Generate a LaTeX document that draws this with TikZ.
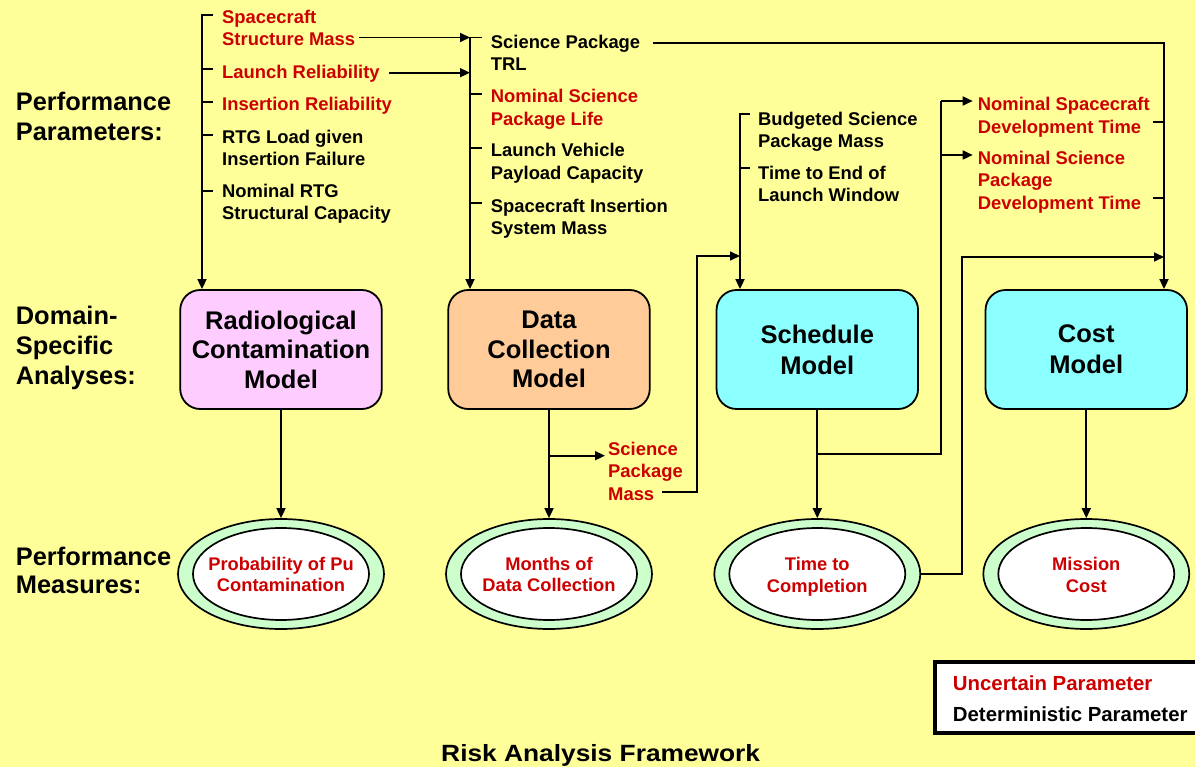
\documentclass[tikz,border=0pt]{standalone}
\usepackage{fontspec}
\usepackage{graphicx}
\setmainfont{Liberation Sans}
\usetikzlibrary{arrows.meta,shapes.geometric,calc}
\definecolor{bgy}{HTML}{FFFF99}
\definecolor{ured}{HTML}{CC0000}
\definecolor{pinkb}{HTML}{FFCCFF}
\definecolor{peachb}{HTML}{FFCC99}
\definecolor{cyanb}{HTML}{8CFFFF}
\definecolor{greene}{HTML}{CCFFCC}
\begin{document}
\begin{tikzpicture}[x=1pt,y=-1pt,
  param/.style={anchor=base west, inner sep=0pt, align=left, font=\bfseries\fontsize{18.4}{22.3}\selectfont},
  unc/.style={text=ured},
  lbl/.style={anchor=base west, inner sep=0pt, align=left, font=\bfseries\fontsize{25.4}{30}\selectfont},
  model/.style={draw, line width=1.8pt, rounded corners=20pt, minimum width=201.5pt, minimum height=119pt, align=center, inner sep=0pt, font=\bfseries\fontsize{25.5}{29.5}\selectfont},
  outerell/.style={ellipse, draw, line width=1.7pt, fill=greene, minimum width=206pt, minimum height=110pt, inner sep=0pt},
  innerell/.style={ellipse, draw, line width=1.7pt, fill=white, minimum width=176pt, minimum height=92pt, inner sep=0pt},
  etext/.style={anchor=base, inner sep=0pt, align=center, text=ured, font=\bfseries\fontsize{18.3}{21.7}\selectfont},
  legtext/.style={anchor=base west, inner sep=0pt, font=\bfseries\fontsize{20.4}{24}\selectfont},
  conn/.style={line width=1.7pt},
  arr/.style={conn, -{Triangle[length=10pt,width=9pt]}},
]
\fill[bgy] (0,0) rectangle (1195,767);
\useasboundingbox (0,0) rectangle (1195,767);

% row labels (anchors at the baseline of the last line)
\node[lbl] (pp) at (15.7,140.7) {Performance\\Parameters:};
\node[lbl] (dsa) at (15.7,384.3) {Domain-\\Specific\\Analyses:};
\node[lbl, font=\bfseries\fontsize{25.4}{28.5}\selectfont] (pm) at (15.7,593.5) {Performance\\Measures:};

% column 1 parameters
\node[param,unc] (sm) at (222,45.7) {Spacecraft\\Structure Mass};
\node[param,unc] (lr) at (222,78.3) {Launch Reliability};
\node[param,unc] (ir) at (222,111) {Insertion Reliability};
\node[param] (rtg) at (222,165.7) {RTG Load given\\Insertion Failure};
\node[param] (nrtg) at (222,220) {Nominal RTG\\Structural Capacity};

% column 2 parameters
\node[param] (trl) at (490.7,71) {Science Package\\TRL};
\node[param,unc] (nspl) at (490.7,125.3) {Nominal Science\\Package Life};
\node[param] (lvpc) at (490.7,179.3) {Launch Vehicle\\Payload Capacity};
\node[param] (sism) at (490.7,235) {Spacecraft Insertion\\System Mass};

% column 3 parameters
\node[param] (bspm) at (758,147.7) {Budgeted Science\\Package Mass};
\node[param] (tel) at (758,201.7) {Time to End of\\Launch Window};

% column 4 parameters
\node[param,unc] (nsdt) at (977.7,133.3) {Nominal Spacecraft\\Development Time};
\node[param,unc] (nspdt) at (977.7,209.3) {Nominal Science\\Package\\Development Time};

% intermediate parameter
\node[param,unc] (spm) at (608,500) {Science\\Package\\Mass};

% models
\node[model, fill=pinkb] (rad) at (281,349.5) {Radiological\\Contamination\\Model};
\node[model, fill=peachb] (dc) at (549,349.5) {Data\\Collection\\Model};
\node[model, fill=cyanb, font=\bfseries\fontsize{25.5}{31}\selectfont] (sch) at (817.3,349.5) {Schedule\\Model};
\node[model, fill=cyanb, font=\bfseries\fontsize{25.5}{31}\selectfont] (cost) at (1086.3,349.5) {Cost\\Model};

% measures
\node[outerell] (e1) at (281,574) {};
\node[innerell] (e1i) at (281,574) {};
\node[etext] (m1) at (281,591.7) {Probability of Pu\\Contamination};
\node[outerell] (e2) at (549,574) {};
\node[innerell] (e2i) at (549,574) {};
\node[etext] (m2) at (549,591.7) {Months of\\Data Collection};
\node[outerell] (e3) at (817.3,574) {};
\node[innerell] (e3i) at (817.3,574) {};
\node[etext] (m3) at (817.3,592.3) {Time to\\Completion};
\node[outerell] (e4) at (1086.3,574) {};
\node[innerell] (e4i) at (1086.3,574) {};
\node[etext] (m4) at (1086.3,592.3) {Mission\\Cost};

% column 1 bus
\coordinate (b1t) at (202,15);
\draw[arr] (213,15) -- (b1t) -- (b1t |- rad.north);
\foreach \yy in {69,102,135,191} \draw[conn] (202,\yy) -- (213,\yy);

% column 2 bus
\coordinate (b2t) at (470,37.5);
\coordinate (b2l) at (470,72.7);
\draw[arr] (482,37.5) -- (b2t) -- (b2t |- dc.north);
\foreach \yy in {94,148,203} \draw[conn] (470,\yy) -- (482,\yy);
\draw[arr] ([xshift=4pt]sm.east |- b2t) -- (b2t);
\draw[arr] ([xshift=9pt]lr.east |- b2l) -- (b2l);

% TRL to cost
\coordinate (b4t) at (1164,42.7);
\draw[arr] ([xshift=13pt]trl.east |- b4t) -- (b4t) -- (b4t |- cost.north);
\draw[conn] (1153,122.3) -- (1164,122.3);
\draw[conn] (1153,198.3) -- (1164,198.3);

% column 3 bus
\coordinate (b3t) at (740,114);
\coordinate (b3s) at (740,256);
\draw[arr] (750,114) -- (b3t) -- (b3t |- sch.north);
\draw[conn] (740,168) -- (750,168);

% data collection outputs
\coordinate (j2) at (549,455.7);
\draw[arr] (dc.south) -- (e2.north);
\draw[arr] (j2) -- ([xshift=-3pt]spm.west |- j2);
\draw[arr] (662,491.7) -- (697,491.7) -- (697,256) -- (b3s);

% schedule outputs
\coordinate (j3) at (817.3,454);
\coordinate (k1) at (941,101);
\coordinate (k2) at (941,155);
\draw[arr] (sch.south) -- (e3.north);
\draw[conn] (j3) -- (941,454) -- (k1);
\draw[arr] (k1) -- ([xshift=-5pt]nsdt.west |- k1);
\draw[arr] (k2) -- ([xshift=-5pt]nspdt.west |- k2);

% time to completion to cost
\coordinate (b4s) at (1164,257);
\draw[arr] (e3.east) -- (962,574) -- (962,257) -- (b4s);

% cost and radiological outputs
\draw[arr] (cost.south) -- (e4.north);
\draw[arr] (rad.south) -- (e1.north);

% legend
\draw[line width=4pt, fill=white] (935,662) rectangle (1200,733);
\node[legtext, text=ured] (leg1) at (952.7,690) {Uncertain Parameter};
\node[legtext] (leg2) at (952.7,721.7) {Deterministic Parameter};

% title
\node[anchor=base, inner sep=0pt, font=\bfseries\fontsize{23.5}{28}\selectfont] (title) at (600.7,761.7) {\scalebox{1.12}[1]{Risk Analysis Framework}};
\end{tikzpicture}
\end{document}
